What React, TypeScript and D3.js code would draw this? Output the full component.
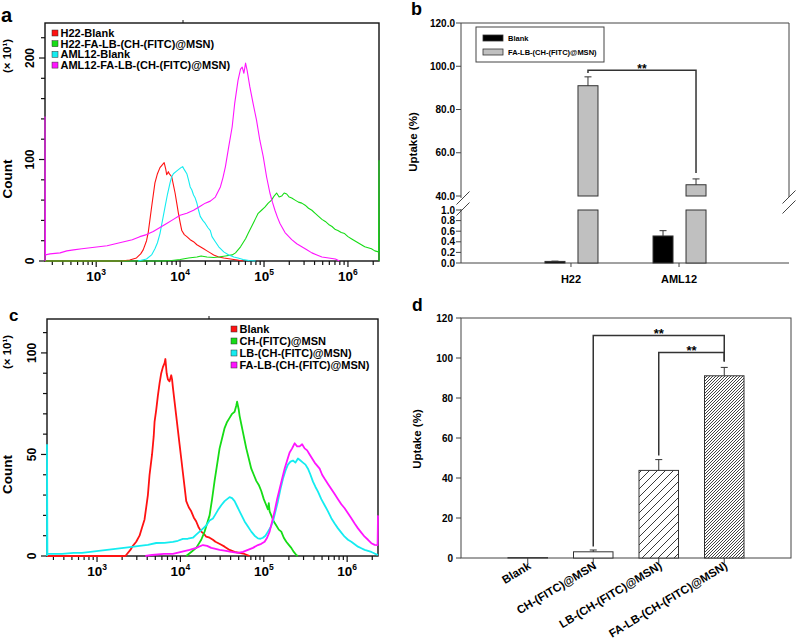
import React from "react";
import * as d3 from "d3";

type Pt = [number, number];

// ---------------- Panel a: [log10 FITC intensity, count (x10)] ----------------
const aH22Blank: Pt[] = [[2.39,0],[3.30,0],[3.40,1],[3.48,3],[3.53,7],[3.56,11],[3.60,20],[3.62,28],[3.66,53],[3.70,77],[3.73,86],[3.76,92],[3.79,95],[3.81,97],[3.83,90],[3.84,85],[3.86,88],[3.87,86],[3.90,83],[3.92,75],[3.94,67],[3.96,57],[3.98,47],[4.00,38],[4.02,30],[4.05,26],[4.08,24],[4.12,21],[4.16,19],[4.20,16],[4.24,14],[4.28,12],[4.32,10],[4.36,8],[4.40,6],[4.46,4],[4.52,3],[4.60,2],[4.68,1],[4.75,0]];
const aH22FA: Pt[] = [[2.39,0],[3.80,0],[3.90,0.5],[4.00,1.5],[4.10,3],[4.20,4],[4.25,5],[4.32,4],[4.40,3.5],[4.46,4],[4.54,5],[4.62,6],[4.66,8],[4.69,11],[4.72,14],[4.75,18],[4.78,22],[4.81,27],[4.84,32],[4.87,37],[4.90,42],[4.93,47],[4.97,50],[5.01,53],[5.05,57],[5.09,60],[5.12,64],[5.15,67],[5.18,63],[5.21,64],[5.24,67],[5.27,66],[5.30,63],[5.33,62],[5.37,60],[5.41,58],[5.45,57],[5.49,55],[5.53,52],[5.57,50],[5.61,47],[5.65,44],[5.69,41],[5.73,39],[5.77,36],[5.81,34],[5.85,31],[5.88,30],[5.92,28],[5.96,27],[6.00,24],[6.04,22],[6.08,20],[6.12,18],[6.16,16],[6.20,14],[6.24,13],[6.28,12],[6.32,10],[6.365,9],[6.37,99],[6.37,0]];
const aAML12Blank: Pt[] = [[3.50,0],[3.60,2],[3.66,6],[3.70,12],[3.73,18],[3.76,27],[3.79,40],[3.82,53],[3.85,66],[3.88,77],[3.90,83],[3.92,86],[3.95,88],[3.98,90],[4.01,92],[4.03,93],[4.05,90],[4.08,86],[4.10,80],[4.12,73],[4.14,70],[4.16,65],[4.18,62],[4.20,57],[4.22,50],[4.24,44],[4.27,40],[4.30,37],[4.33,33],[4.36,30],[4.38,24],[4.42,19],[4.46,14],[4.52,9],[4.58,6],[4.64,4],[4.69,3],[4.75,1.5],[4.82,0.5],[4.90,0]];
const aAML12FA: Pt[] = [[2.39,0],[2.39,142],[2.395,6],[2.45,7],[2.57,8],[2.65,10],[2.73,11],[2.83,12],[2.93,13],[3.03,14],[3.13,15],[3.23,17],[3.33,19],[3.43,21],[3.52,24],[3.60,26],[3.68,29],[3.76,33],[3.84,37],[3.92,41],[4.00,45],[4.08,47],[4.16,50],[4.24,54],[4.30,57],[4.36,59],[4.42,63],[4.48,73],[4.51,82],[4.54,93],[4.58,113],[4.62,132],[4.65,155],[4.69,178],[4.72,189],[4.74,191],[4.76,185],[4.78,195],[4.80,187],[4.83,172],[4.87,155],[4.91,139],[4.95,119],[4.99,103],[5.03,83],[5.07,67],[5.10,58],[5.13,50],[5.16,43],[5.19,37],[5.25,28],[5.33,21],[5.39,17],[5.45,14],[5.51,11],[5.57,8],[5.63,6],[5.69,4],[5.77,3],[5.85,2],[5.90,0]];
const aLegend = ["H22-Blank", "H22-FA-LB-(CH-(FITC)@MSN)", "AML12-Blank", "AML12-FA-LB-(CH-(FITC)@MSN)"];

// ---------------- Panel c ----------------
const cBlank: Pt[] = [[2.40,0],[3.34,0],[3.40,3],[3.43,5],[3.47,7],[3.51,10],[3.54,14],[3.57,18],[3.59,24],[3.61,30],[3.63,40],[3.66,50],[3.68,59],[3.69,66],[3.71,72],[3.73,79],[3.75,85],[3.77,90],[3.79,93],[3.81,95],[3.82,97],[3.835,90],[3.85,87],[3.87,86],[3.89,89],[3.90,87],[3.91,83],[3.93,76],[3.95,69],[3.97,62],[3.99,55],[4.01,48],[4.03,41],[4.05,34],[4.07,27],[4.10,24],[4.13,22],[4.16,19],[4.19,17],[4.22,14],[4.25,12],[4.28,11],[4.31,9.5],[4.35,9],[4.39,8],[4.42,7],[4.45,6.4],[4.49,5.5],[4.53,4.6],[4.59,3],[4.65,2],[4.71,1.5],[4.77,1],[4.83,0]];
const cCH: Pt[] = [[4.07,0],[4.13,2],[4.19,4],[4.25,8],[4.29,12],[4.32,16],[4.35,20],[4.38,28],[4.41,37],[4.44,45],[4.47,53],[4.50,58],[4.53,63],[4.56,66],[4.59,68],[4.62,70],[4.65,71],[4.67,74],[4.68,76],[4.70,72],[4.71,69],[4.73,65],[4.75,61],[4.77,57],[4.79,53],[4.82,48],[4.85,43],[4.88,40],[4.91,37],[4.94,35],[4.97,32],[5.00,28],[5.03,25],[5.05,23],[5.06,26],[5.07,22],[5.09,20],[5.12,17],[5.15,15],[5.18,13],[5.21,12],[5.24,9],[5.27,7],[5.30,5.5],[5.33,4],[5.36,2],[5.39,0.5],[5.41,0]];
const cLB: Pt[] = [[2.40,0],[2.40,54.7],[2.405,1],[2.44,1],[2.58,1],[2.72,1.5],[2.82,1.5],[2.92,2],[3.02,2.5],[3.12,3],[3.22,3.5],[3.32,4],[3.42,4.5],[3.51,5],[3.61,5.5],[3.71,6.4],[3.81,6.5],[3.91,7],[3.97,7.5],[4.03,8.4],[4.09,8.5],[4.15,9],[4.19,10.5],[4.23,12],[4.27,13.5],[4.31,15],[4.35,17.5],[4.39,18.5],[4.42,20.5],[4.45,22.6],[4.49,25],[4.53,27],[4.56,28],[4.59,29],[4.62,28.5],[4.65,27],[4.68,24.5],[4.71,22],[4.74,19.5],[4.77,17],[4.81,14.5],[4.85,12],[4.89,10],[4.93,8.7],[4.96,8.5],[4.99,9],[5.02,10],[5.05,12],[5.08,14],[5.11,17],[5.14,22],[5.17,27],[5.20,33],[5.23,38],[5.26,42],[5.29,45],[5.32,46.5],[5.35,47],[5.38,46],[5.41,48],[5.44,47],[5.47,46],[5.50,45],[5.53,43],[5.56,40],[5.59,36.6],[5.62,34],[5.65,31.7],[5.69,28],[5.73,25],[5.77,22],[5.81,18.6],[5.85,16],[5.89,13.6],[5.93,11.5],[5.97,9.5],[6.01,8],[6.05,7],[6.09,5.8],[6.13,4.6],[6.17,3.8],[6.21,3],[6.25,2.5],[6.29,2],[6.33,1.2],[6.37,0.5]];
const cFALB: Pt[] = [[3.58,0],[3.66,0.5],[3.80,1],[3.91,1],[4.01,2],[4.11,3],[4.19,4],[4.27,5.4],[4.32,5],[4.37,4],[4.41,3.6],[4.47,3],[4.53,2.6],[4.61,2],[4.69,1.5],[4.75,2],[4.81,3],[4.87,4],[4.93,5.4],[4.97,6],[5.01,7],[5.04,9],[5.07,12],[5.10,17],[5.13,22],[5.16,28],[5.19,33],[5.22,38],[5.25,43],[5.28,47],[5.31,51],[5.34,53],[5.37,55.5],[5.40,54],[5.43,54],[5.46,55],[5.49,53],[5.52,52],[5.55,50],[5.58,48],[5.61,46],[5.64,44.5],[5.67,43],[5.70,40],[5.73,38],[5.77,35.5],[5.81,33],[5.85,30.5],[5.89,28],[5.93,25.5],[5.97,23.5],[6.01,21],[6.05,18.6],[6.09,16],[6.13,13.6],[6.17,11.5],[6.21,9.5],[6.25,8],[6.29,6.3],[6.33,5.5],[6.365,5.4],[6.37,20]];
const cLegend = ["Blank", "CH-(FITC)@MSN", "LB-(CH-(FITC)@MSN)", "FA-LB-(CH-(FITC)@MSN)"];

const histColors = ["#ff1212", "#16dc16", "#14ecf0", "#ff14ff"];

// ---------------- Panel b ----------------
const bGroups = ["H22", "AML12"];
const bSeries = ["Blank", "FA-LB-(CH-(FITC)@MSN)"];
const bBlank = [0.03, 0.51];
const bBlankErr = [0.005, 0.1];
const bFA = [91.0, 45.2];
const bFAErr = [4.1, 2.7];
const bUpperTicks = [40, 60, 80, 100, 120];
const bLowerTicks = [0, 0.2, 0.4, 0.6, 0.8, 1.0];
const bSig = { label: "**", level: 98.1, leftEnd: 96.9, rightEnd: 50.6 };

// ---------------- Panel d ----------------
const dCats = ["Blank", "CH-(FITC)@MSN", "LB-(CH-(FITC)@MSN)", "FA-LB-(CH-(FITC)@MSN)"];
const dVals = [0.2, 3.1, 43.8, 91.1];
const dErr = [0, 0.9, 5.4, 4.2];
const dTicks = [0, 20, 40, 60, 80, 100, 120];
const dSig = [
  { label: "**", from: 1, to: 3, level: 111.2, leftEnd: 5.7, rightEnd: 98.2 },
  { label: "**", from: 2, to: 3, level: 102.7, leftEnd: 51.2, rightEnd: 98.2 },
];
const dFills = ["#ffffff", "#ffffff", "url(#hatchSparse)", "url(#hatchDense)"];

const FONT = "'Liberation Sans', Arial, Helvetica, sans-serif";

type HistCfg = {
  id: string; left: number; right: number; top: number; bottom: number;
  minExp: number; maxExp: number; yMax: number; yStep: number; yLabelStep: number;
  lw: number; legX: number; legY: number; legDy: number; topTickX: number;
};

function HistPanel({ cfg, series, legend }: { cfg: HistCfg; series: Pt[][]; legend: string[] }) {
  const { id, left, right, top, bottom, minExp, maxExp, yMax, yStep, yLabelStep, lw, legX, legY, legDy, topTickX } = cfg;
  const x = d3.scaleLog().domain([10 ** minExp, 10 ** maxExp]).range([left, right]);
  const y = d3.scaleLinear().domain([0, yMax]).range([bottom, top]);
  const line = d3.line<Pt>().x((d) => x(10 ** d[0])).y((d) => y(d[1]));
  const xt: { v: number; major: boolean }[] = [];
  for (let e = Math.floor(minExp); e <= Math.ceil(maxExp); e++) {
    for (let m = 1; m <= 9; m++) {
      const v = m * 10 ** e;
      if (v >= 10 ** minExp && v <= 10 ** maxExp) xt.push({ v, major: m === 1 });
    }
  }
  const decades = d3.range(Math.ceil(minExp), Math.floor(maxExp) + 1);
  const yt = d3.range(0, yMax + 1e-6, yStep);
  const mid = (top + bottom) / 2;
  return (
    <g>
      <defs>
        <clipPath id={id}>
          <rect x={left - 1} y={top} width={right - left + 2} height={bottom - top + 1} />
        </clipPath>
      </defs>
      <rect x={left} y={top} width={right - left} height={bottom - top} fill="none" stroke="#111" strokeWidth={1.4} />
      <line x1={topTickX} x2={topTickX} y1={top} y2={top - 3} stroke="#111" strokeWidth={1} />
      {xt.map((t, i) => (
        <line key={i} x1={x(t.v)} x2={x(t.v)} y1={bottom} y2={bottom + (t.major ? 6 : 4)} stroke="#111" strokeWidth={1.2} />
      ))}
      {decades.map((e) => (
        <text key={e} x={x(10 ** e)} y={bottom + 20} textAnchor="middle" fontSize={13.5} fontWeight="bold" fontFamily={FONT}>
          10<tspan dy={-6} fontSize={8.5}>{e}</tspan>
        </text>
      ))}
      {yt.map((v, i) => {
        const major = Math.abs(v % yLabelStep) < 1e-6;
        return <line key={i} x1={left} x2={left - (major ? 6 : 4)} y1={y(v)} y2={y(v)} stroke="#111" strokeWidth={1.2} />;
      })}
      {yt.filter((v) => Math.abs(v % yLabelStep) < 1e-6).map((v) => (
        <text key={v} x={left - 11} y={y(v)} transform={`rotate(-90, ${left - 11}, ${y(v)})`} textAnchor="middle" fontSize={12} fontWeight="bold" fontFamily={FONT}>
          {v}
        </text>
      ))}
      <text x={11} y={top + 33} transform={`rotate(-90, 11, ${top + 33})`} textAnchor="middle" fontSize={11.5} fontWeight="bold" fontFamily={FONT}>
        (× 10¹)
      </text>
      <text x={11.5} y={mid + 37} transform={`rotate(-90, 11.5, ${mid + 37})`} textAnchor="middle" fontSize={13.5} fontWeight="bold" fontFamily={FONT}>
        Count
      </text>
      <g clipPath={`url(#${id})`}>
        {series.map((s, i) => (
          <path key={i} d={line(s) || ""} fill="none" stroke={histColors[i]} strokeWidth={lw} strokeLinejoin="round" />
        ))}
      </g>
      {legend.map((name, i) => (
        <g key={name}>
          <rect x={legX} y={legY + i * legDy - 3} width={6} height={6} fill={histColors[i]} stroke="#333" strokeWidth={0.5} />
          <text x={legX + 8.5} y={legY + i * legDy + 4} fontSize={11} fontWeight="bold" fontFamily={FONT}>
            {name}
          </text>
        </g>
      ))}
    </g>
  );
}

function PanelB() {
  const left = 461, right = 789, top = 23, upBottom = 196, lowTop = 210, bottom = 263;
  const yU = d3.scaleLinear().domain([40, 120]).range([upBottom, top]);
  const yL = d3.scaleLinear().domain([0, 1]).range([bottom, lowTop]);
  const xG = d3.scaleBand().domain(bGroups).range([left, right]).paddingInner(0).paddingOuter(0.518);
  const xS = d3.scaleBand().domain(bSeries).range([-26, 27]).paddingInner(0.394);
  const vals = [bBlank, bFA];
  const errs = [bBlankErr, bFAErr];
  const fills = ["#000000", "#c0c0c0"];
  const yOf = (v: number) => (v > 40 ? yU(v) : yL(v));
  const bars: JSX.Element[] = [];
  bGroups.forEach((g, gi) => {
    const c = xG(g)! + xG.bandwidth() / 2;
    bSeries.forEach((s, si) => {
      const v = vals[si][gi];
      const e = errs[si][gi];
      const x0 = c + xS(s)!;
      const w = xS.bandwidth();
      const lowV = Math.min(v, 1);
      bars.push(<rect key={`l${gi}${si}`} x={x0} y={yL(lowV)} width={w} height={yL(0) - yL(lowV)} fill={fills[si]} stroke="#333" strokeWidth={1} />);
      if (v > 40) {
        bars.push(<rect key={`u${gi}${si}`} x={x0} y={yU(v)} width={w} height={yU(40) - yU(v)} fill={fills[si]} stroke="#333" strokeWidth={1} />);
      }
      const cx = x0 + w / 2;
      bars.push(
        <path key={`e${gi}${si}`} d={`M${cx},${yOf(v)}V${yOf(v + e)}M${cx - 3.5},${yOf(v + e)}H${cx + 3.5}`} stroke="#333" strokeWidth={1} fill="none" />
      );
    });
  });
  const faC = (gi: number) => xG(bGroups[gi])! + xG.bandwidth() / 2 + xS(bSeries[1])! + xS.bandwidth() / 2;
  const x1 = faC(0), x2 = faC(1);
  const slash = (cx: number, cy: number) => `M${cx - 6.5},${cy + 6.5}L${cx + 6.5},${cy - 6.5}`;
  return (
    <g fontFamily={FONT}>
      <text x={411} y={15} fontSize={18} fontWeight="bold">b</text>
      <path d={`M${left},${upBottom + 2}V${top}H${right}V${upBottom + 1}`} fill="none" stroke="#444" strokeWidth={1} />
      <path d={`M${left},${lowTop - 1}V${bottom}H${right}`} fill="none" stroke="#444" strokeWidth={1} />
      <path d={slash(left + 2, upBottom + 2) + slash(left + 2, lowTop - 1) + slash(right, upBottom + 1) + slash(right, lowTop - 3)} stroke="#444" strokeWidth={1} fill="none" />
      {bUpperTicks.map((t) => (
        <g key={`u${t}`}>
          <line x1={left - 5} x2={left} y1={yU(t)} y2={yU(t)} stroke="#444" />
          <text x={left - 6} y={yU(t) + 3.5} textAnchor="end" fontSize={10} fontWeight="bold">{t.toFixed(1)}</text>
        </g>
      ))}
      {bLowerTicks.map((t) => (
        <g key={`l${t}`}>
          <line x1={left - 5} x2={left} y1={yL(t)} y2={yL(t)} stroke="#444" />
          <text x={left - 6} y={yL(t) + 3.5} textAnchor="end" fontSize={10} fontWeight="bold">{t.toFixed(1)}</text>
        </g>
      ))}
      {bGroups.map((g) => {
        const c = xG(g)! + xG.bandwidth() / 2;
        return (
          <g key={g}>
            <line x1={c} x2={c} y1={bottom} y2={bottom + 4} stroke="#444" />
            <text x={c} y={bottom + 20} textAnchor="middle" fontSize={11} fontWeight="bold">{g}</text>
          </g>
        );
      })}
      <text x={417} y={142} transform="rotate(-90, 417, 142)" textAnchor="middle" fontSize={11.5} fontWeight="bold">Uptake (%)</text>
      {bars}
      <path d={`M${x1},${yU(bSig.leftEnd)}V${yU(bSig.level)}H${x2}V${yU(bSig.rightEnd)}`} fill="none" stroke="#333" strokeWidth={1.5} />
      <text x={(x1 + x2) / 2} y={yU(bSig.level) + 3} textAnchor="middle" fontSize={12} fontWeight="bold">{bSig.label}</text>
      <rect x={476} y={27} width={128} height={35} fill="#fff" stroke="#444" strokeWidth={1} />
      {bSeries.map((s, i) => (
        <g key={s}>
          <rect x={483} y={35 + i * 14} width={20} height={6} fill={fills[i]} stroke="#333" strokeWidth={0.8} />
          <text x={508} y={41 + i * 14} fontSize={7.5} fontWeight="bold">{s}</text>
        </g>
      ))}
    </g>
  );
}

function PanelD() {
  const left = 461, right = 791, top = 318, bottom = 558;
  const y = d3.scaleLinear().domain([0, 120]).range([bottom, top]);
  const x = d3.scaleBand().domain(dCats).range([left, right]).paddingInner(0.397).paddingOuter(0.7175);
  const cx = (i: number) => x(dCats[i])! + x.bandwidth() / 2;
  return (
    <g fontFamily={FONT}>
      <defs>
        <pattern id="hatchSparse" patternUnits="userSpaceOnUse" width={8} height={8}>
          <rect width={8} height={8} fill="#fff" />
          <path d="M-2,2L2,-2M0,8L8,0M6,10L10,6" stroke="#222" strokeWidth={0.9} />
        </pattern>
        <pattern id="hatchDense" patternUnits="userSpaceOnUse" width={3} height={3}>
          <rect width={3} height={3} fill="#fff" />
          <path d="M-1,1L1,-1M0,3L3,0M2,4L4,2" stroke="#222" strokeWidth={0.85} />
        </pattern>
      </defs>
      <text x={412} y={311} fontSize={17.5} fontWeight="bold">d</text>
      <rect x={left} y={top} width={right - left} height={bottom - top} fill="none" stroke="#444" strokeWidth={1} />
      {dTicks.map((t) => (
        <g key={t}>
          <line x1={left - 5} x2={left} y1={y(t)} y2={y(t)} stroke="#444" />
          <text x={left - 8} y={y(t) + 3.5} textAnchor="end" fontSize={10} fontWeight="bold">{t}</text>
        </g>
      ))}
      <text x={421} y={439} transform="rotate(-90, 421, 439)" textAnchor="middle" fontSize={11.5} fontWeight="bold">Uptake (%)</text>
      {dCats.map((c, i) => (
        <g key={c}>
          <line x1={cx(i)} x2={cx(i)} y1={bottom} y2={bottom + 5} stroke="#444" />
          <text x={cx(i) + 4} y={bottom + 10} transform={`rotate(-31, ${cx(i) + 4}, ${bottom + 10})`} textAnchor="end" fontSize={11.5} fontWeight="bold">{c}</text>
        </g>
      ))}
      {dCats.map((c, i) => (
        <g key={`b${c}`}>
          <rect x={x(c)} y={y(dVals[i])} width={x.bandwidth()} height={y(0) - y(dVals[i])} fill={dFills[i]} stroke="#333" strokeWidth={1} />
          {dErr[i] > 0 && (
            <path d={`M${cx(i)},${y(dVals[i])}V${y(dVals[i] + dErr[i])}M${cx(i) - 3.5},${y(dVals[i] + dErr[i])}H${cx(i) + 3.5}`} stroke="#333" strokeWidth={1} fill="none" />
          )}
        </g>
      ))}
      {dSig.map((s, i) => (
        <g key={i}>
          <path d={`M${cx(s.from)},${y(s.leftEnd)}V${y(s.level)}H${cx(s.to)}V${y(s.rightEnd)}`} fill="none" stroke="#333" strokeWidth={1.5} />
          <text x={(cx(s.from) + cx(s.to)) / 2} y={y(s.level) + 2} textAnchor="middle" fontSize={13} fontWeight="bold">{s.label}</text>
        </g>
      ))}
    </g>
  );
}

const aCfg: HistCfg = { id: "clipA", left: 45, right: 379, top: 23, bottom: 261, minExp: 2.39, maxExp: 6.37, yMax: 234.5, yStep: 20, yLabelStep: 100, lw: 1.1, legX: 52, legY: 33, legDy: 10.7, topTickX: 183 };
const cCfg: HistCfg = { id: "clipC", left: 47, right: 378, top: 319, bottom: 556, minExp: 2.40, maxExp: 6.37, yMax: 116.7, yStep: 10, yLabelStep: 50, lw: 1.8, legX: 231, legY: 329, legDy: 12, topTickX: 209 };

export default function App() {
  return (
    <svg width={796} height={639} viewBox="0 0 796 639" style={{ position: "absolute", left: 0, top: 0, background: "#fff" }}>
      <rect width={796} height={639} fill="#fff" />
      <text x={1} y={22} fontSize={20} fontWeight="bold" fontFamily={FONT}>a</text>
      <HistPanel cfg={aCfg} series={[aH22Blank, aH22FA, aAML12Blank, aAML12FA]} legend={aLegend} />
      <text x={9} y={321} fontSize={17} fontWeight="bold" fontFamily={FONT}>c</text>
      <HistPanel cfg={cCfg} series={[cBlank, cCH, cLB, cFALB]} legend={cLegend} />
      <PanelB />
      <PanelD />
    </svg>
  );
}
